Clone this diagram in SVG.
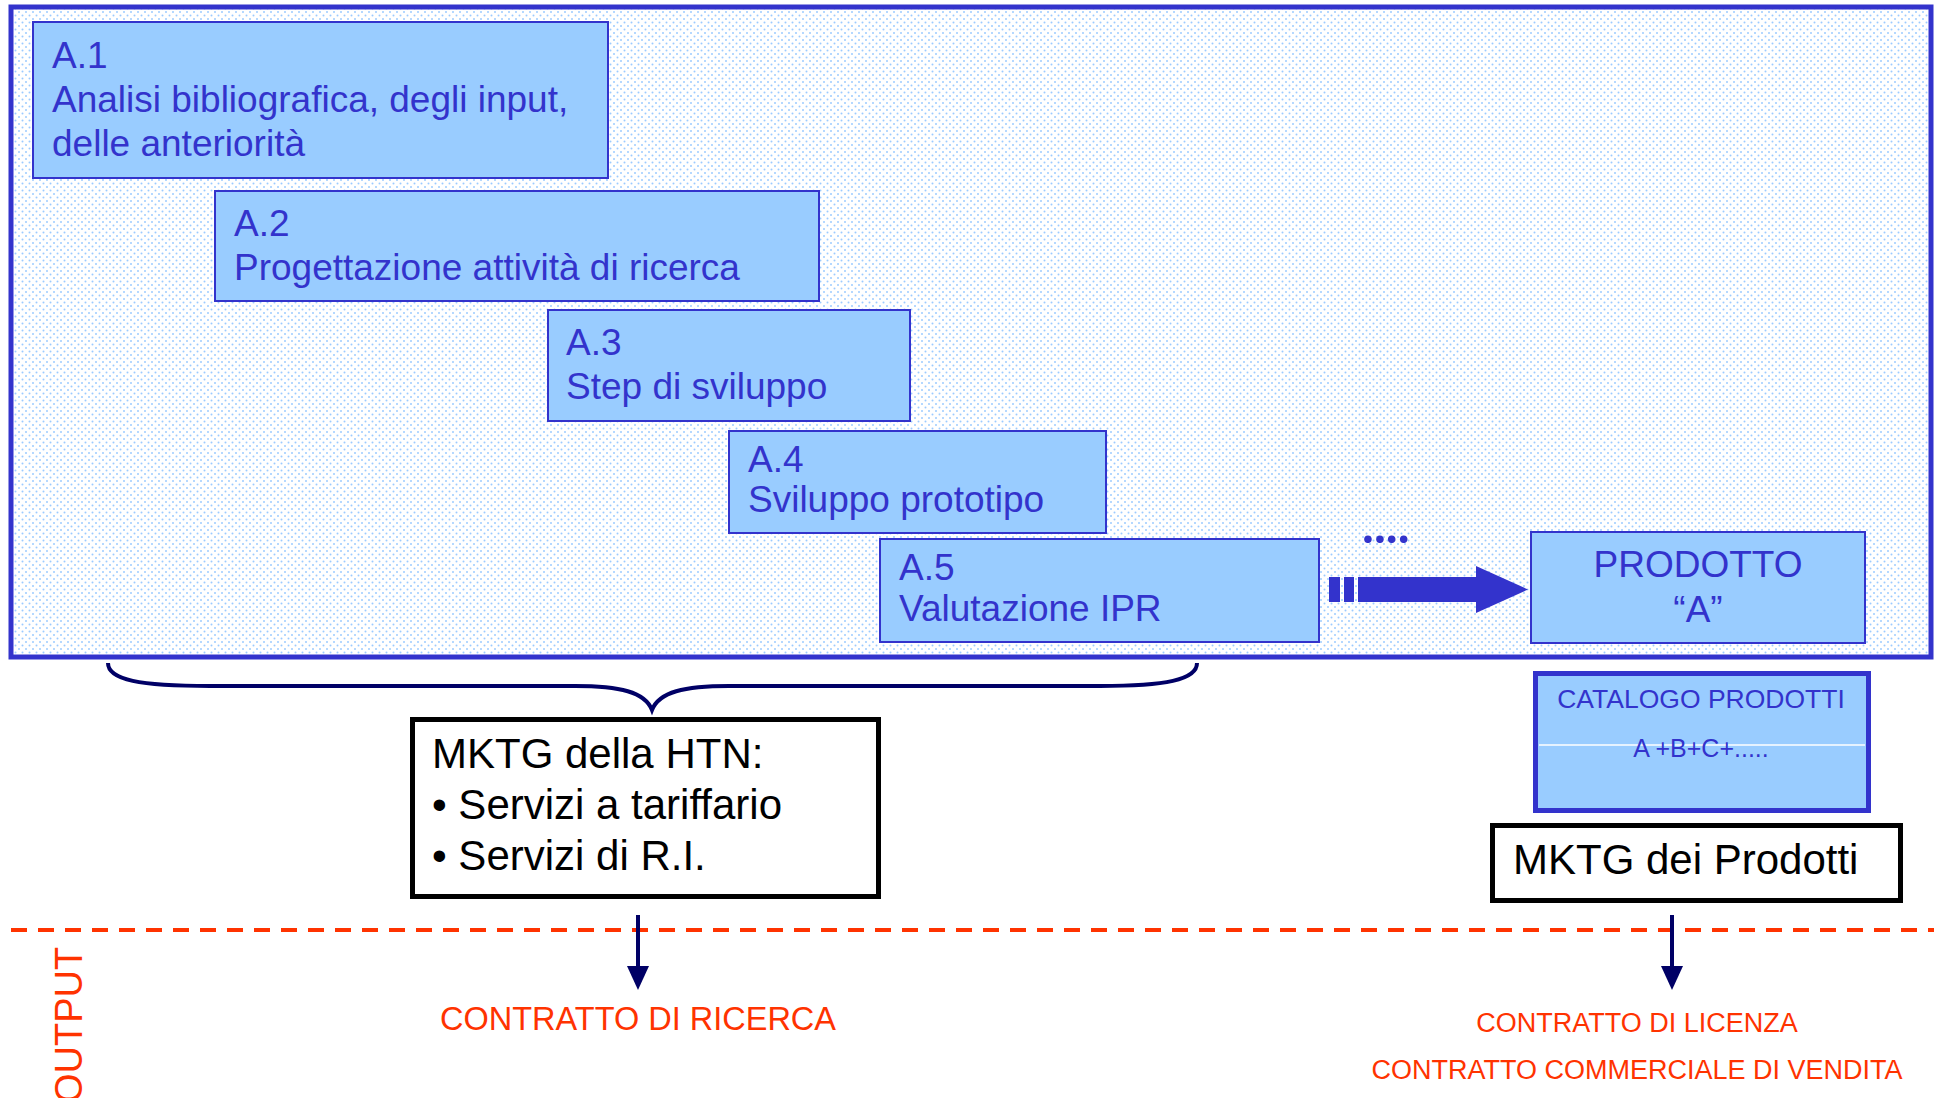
<svg xmlns="http://www.w3.org/2000/svg" width="1934" height="1098" viewBox="0 0 1934 1098">
<style>
.t{font-family:"Liberation Sans",Arial,sans-serif}
.blue{fill:#3333CC;font-size:37px}
.bbox{fill:#99CCFF;stroke:#3333CC;stroke-width:2}
.blk{fill:#000000;font-size:42px}
.wbox{fill:#FFFFFF;stroke:#000000;stroke-width:5}
.red{fill:#FF3300}
.navy{stroke:#000066;fill:none}
</style>
<defs>
<pattern id="dots" x="0" y="0" width="7" height="7" patternUnits="userSpaceOnUse">
<rect width="7" height="7" fill="#FFFFFF"/>
<circle cx="1.5" cy="1.5" r="1" fill="#9CCBFF"/>
<circle cx="5" cy="5" r="1" fill="#9CCBFF"/>
</pattern>
<marker id="navyhead" markerUnits="userSpaceOnUse" markerWidth="24" markerHeight="22" refX="6" refY="11" orient="auto">
<path d="M0,0 L24,11 L0,22 z" fill="#000066"/>
</marker>
</defs>
<rect width="1934" height="1098" fill="#FFFFFF"/>

<g id="frame">
<rect x="11" y="7" width="1920" height="650" fill="url(#dots)" stroke="#3333CC" stroke-width="5"/>
</g>

<g id="a1">
<rect class="bbox" x="33" y="22" width="575" height="156"/>
<text class="t blue" x="52" y="68">A.1</text>
<text class="t blue" x="52" y="112">Analisi bibliografica, degli input,</text>
<text class="t blue" x="52" y="156">delle anteriorità</text>
</g>
<g id="a2">
<rect class="bbox" x="215" y="191" width="604" height="110"/>
<text class="t blue" x="234" y="236">A.2</text>
<text class="t blue" x="234" y="280">Progettazione attività di ricerca</text>
</g>
<g id="a3">
<rect class="bbox" x="548" y="310" width="362" height="111"/>
<text class="t blue" x="566" y="355">A.3</text>
<text class="t blue" x="566" y="399">Step di sviluppo</text>
</g>
<g id="a4">
<rect class="bbox" x="729" y="431" width="377" height="102"/>
<text class="t blue" x="748" y="472">A.4</text>
<text class="t blue" x="748" y="512">Sviluppo prototipo</text>
</g>
<g id="a5">
<rect class="bbox" x="880" y="539" width="439" height="103"/>
<text class="t blue" x="899" y="580">A.5</text>
<text class="t blue" x="899" y="621">Valutazione IPR</text>
</g>
<g id="dots-label">
<text x="1362" y="543" font-family="Lato, 'Liberation Sans', sans-serif" font-size="50" font-weight="bold" fill="#3333CC">....</text>
</g>
<g id="prodotto">
<rect class="bbox" x="1531" y="532" width="334" height="111"/>
<text class="t blue" x="1698" y="577" text-anchor="middle">PRODOTTO</text>
<text class="t blue" x="1698" y="622" text-anchor="middle">“A”</text>
</g>
<g id="catalogo">
<rect x="1535.5" y="673.5" width="333" height="137" fill="#99CCFF" stroke="#3333CC" stroke-width="5"/>
<line x1="1539" y1="745" x2="1865" y2="745" stroke="#FFFFFF" stroke-width="1.5"/>
<text class="t" x="1701" y="708" text-anchor="middle" font-size="26.5" fill="#3333CC">CATALOGO PRODOTTI</text>
<text class="t" x="1701" y="757" text-anchor="middle" font-size="25" fill="#3333CC">A +B+C+.....</text>
</g>
<g id="mktg-htn">
<rect class="wbox" x="412.5" y="719.5" width="466" height="177"/>
<text class="t blk" x="432" y="768">MKTG della HTN:</text>
<text class="t blk" x="432" y="819">• Servizi a tariffario</text>
<text class="t blk" x="432" y="870">• Servizi di R.I.</text>
</g>
<g id="mktg-prodotti">
<rect class="wbox" x="1492.5" y="825.5" width="408" height="75"/>
<text class="t blk" x="1513" y="874">MKTG dei Prodotti</text>
</g>

<g id="connectors">
<rect x="1329" y="577" width="11" height="25" fill="#3333CC"/>
<rect x="1344" y="577" width="10" height="25" fill="#3333CC"/>
<rect x="1358" y="577" width="118" height="25" fill="#3333CC"/>
<polygon points="1476,566 1528,589.5 1476,613" fill="#3333CC"/>
<path class="navy" stroke-width="4" d="M108,663 C108,680 140,686 210,686 L575,686 C620,686 645,692 652,710 C659,692 684,686 729,686 L1100,686 C1165,686 1197,680 1197,663"/>
<line x1="11" y1="930" x2="1934" y2="930" stroke="#FF3300" stroke-width="4" stroke-dasharray="16,11"/>
<line class="navy" x1="638" y1="915" x2="638" y2="972" stroke-width="4" marker-end="url(#navyhead)"/>
<line class="navy" x1="1672" y1="915" x2="1672" y2="972" stroke-width="4" marker-end="url(#navyhead)"/>
</g>

<g id="outputs">
<text class="t red" x="638" y="1030" text-anchor="middle" font-size="32.5">CONTRATTO DI RICERCA</text>
<text class="t red" x="1637" y="1032" text-anchor="middle" font-size="27">CONTRATTO DI LICENZA</text>
<text class="t red" x="1637" y="1079" text-anchor="middle" font-size="27">CONTRATTO COMMERCIALE DI VENDITA</text>
<text class="t red" x="82" y="1103" font-size="38" transform="rotate(-90 82 1103)">OUTPUT</text>
</g>
</svg>
